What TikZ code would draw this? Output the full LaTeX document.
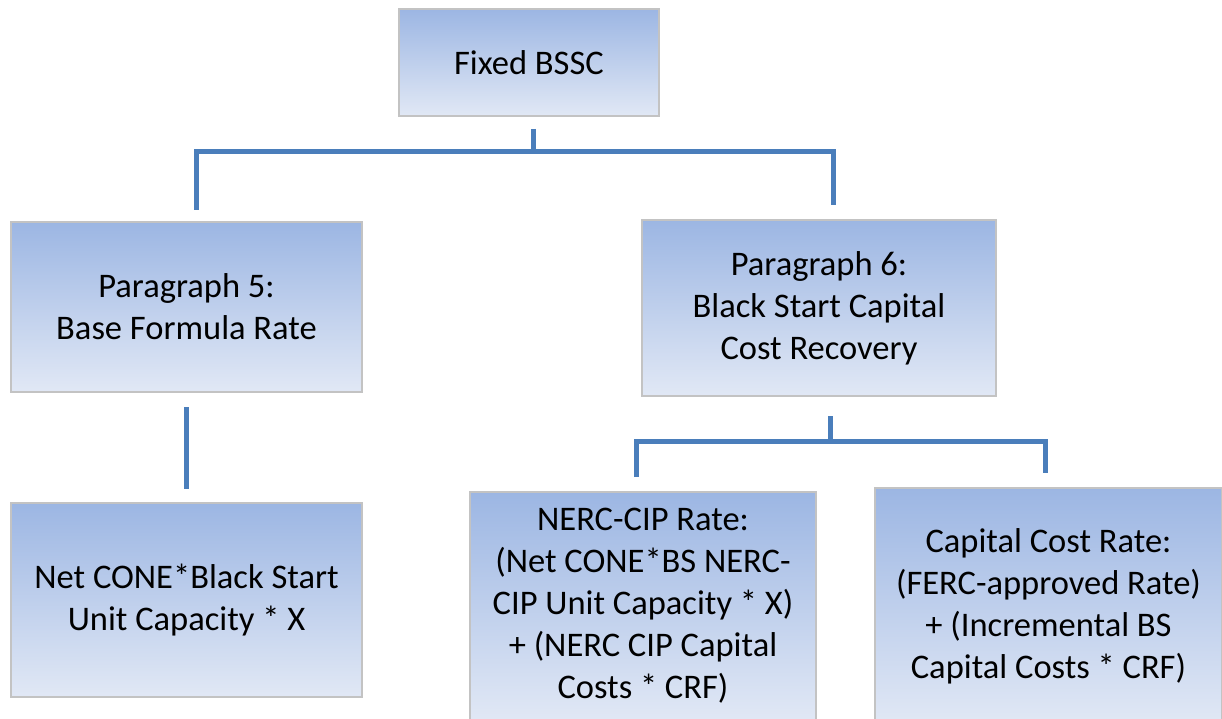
\documentclass[tikz,border=0pt]{standalone}
\usepackage{fontspec}
\setmainfont{Carlito}
\usetikzlibrary{calc}
\definecolor{linkblue}{HTML}{4A7EBB}
\definecolor{boxtop}{HTML}{9CB6E3}
\definecolor{boxbot}{HTML}{E1E8F5}
\definecolor{boxedge}{HTML}{C3C3C3}
\tikzset{
  box/.style={draw=boxedge, line width=2pt, top color=boxtop, bottom color=boxbot,
    align=center, inner sep=0pt, font=\fontsize{34.5}{42}\selectfont},
  conn/.style={draw=linkblue, line width=5pt}
}
\begin{document}
\begin{tikzpicture}[x=1pt,y=-1pt]
\useasboundingbox (0,0) rectangle (1222,719);
\node[box, minimum width=260, minimum height=107] (top) at (529,62.5) {Fixed BSSC};
\node[box, minimum width=351, minimum height=170] (p5) at (186.5,307) {Paragraph 5:\\Base Formula Rate};
\node[box, minimum width=354, minimum height=176] (p6) at (819,308) {Paragraph 6:\\Black Start Capital\\Cost Recovery};
\node[box, minimum width=351, minimum height=194] (nc) at (186.5,600) {Net CONE*Black Start\\Unit Capacity * X};
\node[box, minimum width=346, minimum height=228] (nerc) at (643,606) {NERC-CIP Rate:\\(Net CONE*BS NERC-\\CIP Unit Capacity * X)\\+ (NERC CIP Capital\\Costs * CRF)};
\node[box, minimum width=347, minimum height=236] (cap) at (1048.5,606) {Capital Cost Rate:\\(FERC-approved Rate)\\+ (Incremental BS\\Capital Costs * CRF)};
\draw[conn] ($(top.south)+(4,12)$) -- ($(top.south)+(4,37)$);
\draw[conn] ($(p5.north)+(10,-11)$) -- ($(p5.north)+(10,-69)$) -| ($(p6.north)+(14,-14)$);
\draw[conn] ($(p5.south)+(0,14)$) -- ($(nc.north)+(0,-13)$);
\draw[conn] ($(p6.south)+(11,19)$) -- ($(p6.south)+(11,46)$);
\draw[conn] ($(nerc.north)+(-7,-14)$) -- ($(nerc.north)+(-7,-50)$) -| ($(cap.north)+(-3.5,-14)$);
\end{tikzpicture}
\end{document}
